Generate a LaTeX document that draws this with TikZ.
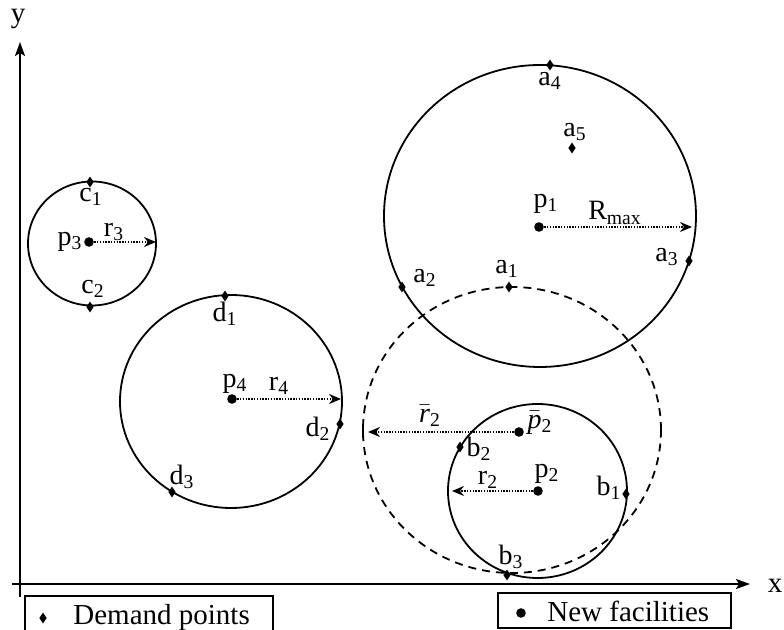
\documentclass[tikz,border=0pt]{standalone}
\usepackage{fontspec}
\setmainfont{Liberation Serif}
\usetikzlibrary{arrows.meta,positioning,shapes.geometric}

\tikzset{
  demand/.style={diamond,fill,inner sep=0pt,minimum width=3.8pt,minimum height=5.6pt},
  facility/.style={circle,fill,inner sep=0pt,minimum size=4.8pt},
  ring/.style={ellipse,draw,line width=0.9pt,inner sep=0pt},
  radius/.style={line width=1pt,dash pattern=on 0.7pt off 0.7pt,
    -{Stealth[length=6pt,width=5pt,inset=2pt]}},
  axis/.style={line width=1pt,-{Stealth[length=7pt,width=5pt,inset=1.5pt]}},
  tag/.style={font=\fontsize{14}{16}\selectfont,inner sep=0pt},
  legend/.style={font=\fontsize{14.5}{17}\selectfont,inner sep=0pt},
}
\newcommand{\barit}[1]{$\bar{\mbox{\textit{#1}}}$}

\begin{document}
\begin{tikzpicture}[x=0.5pt,y=-0.5pt]
  \useasboundingbox (0,0) rectangle (784,630);

  % axes
  \coordinate (xs) at (12,584);
  \coordinate (xe) at (750,584);
  \coordinate (ys) at (20,597);
  \coordinate (ye) at (20,42);
  \draw[axis] (xs) -- (xe);
  \draw[axis] (ys) -- (ye);
  \node[legend] (xl) at (775,586) {x};
  \node[legend] (yl) at (18,19) {y};

  % coverage circles
  \node[ring,minimum width=156pt,minimum height=151pt] (ring1) at (540,216) {};
  \node[ring,dashed,dash pattern=on 4pt off 3pt,minimum width=149pt,minimum height=143pt] (ringb) at (512,430) {};
  \node[ring,minimum width=89.5pt,minimum height=87pt] (ring2) at (537.5,491) {};
  \node[ring,minimum width=64pt,minimum height=62pt] (ring3) at (92,243.5) {};
  \node[ring,minimum width=111pt,minimum height=106.5pt] (ring4) at (231,401.5) {};

  % new facilities
  \node[facility] (p1) at (539,227) {};
  \node[facility] (p2) at (538,491) {};
  \node[facility] (pb2) at (519,432) {};
  \node[facility] (p3) at (89,242) {};
  \node[facility] (p4) at (232,399) {};

  % radii
  \coordinate (t1) at (692,227);
  \coordinate (t2) at (452,491);
  \coordinate (tb2) at (368,432);
  \coordinate (t3) at (156,242);
  \coordinate (t4) at (341,399);
  \draw[radius] (p1) -- (t1);
  \draw[radius] (p2) -- (t2);
  \draw[radius] (pb2) -- (tb2);
  \draw[radius] (p3) -- (t3);
  \draw[radius] (p4) -- (t4);
  \draw[line width=0.9pt] (363,426) -- (363,438);

  % demand points
  \node[demand] (a1) at (509,287) {};
  \node[demand] (a2) at (402,287) {};
  \node[demand] (a3) at (689,261) {};
  \node[demand] (a4) at (550,65) {};
  \node[demand] (a5) at (572,148) {};
  \node[demand] (b1) at (626,494) {};
  \node[demand] (b2) at (460,447) {};
  \node[demand] (b3) at (507,575) {};
  \node[demand] (c1) at (90,182) {};
  \node[demand] (c2) at (90,307) {};
  \node[demand] (d1) at (225,296) {};
  \node[demand] (d2) at (340,424) {};
  \node[demand] (d3) at (172,492) {};

  % labels
  \node[tag] (a1l) at (507,269) {a\textsubscript{1}};
  \node[tag] (a2l) at (425,278) {a\textsubscript{2}};
  \node[tag] (a3l) at (667,257) {a\textsubscript{3}};
  \node[tag] (a4l) at (550,81) {a\textsubscript{4}};
  \node[tag] (a5l) at (575,132) {a\textsubscript{5}};
  \node[tag] (b1l) at (609,488) {b\textsubscript{1}};
  \node[tag] (b2l) at (479,449) {b\textsubscript{2}};
  \node[tag] (b3l) at (511,557) {b\textsubscript{3}};
  \node[tag] (c1l) at (91,197) {c\textsubscript{1}};
  \node[tag] (c2l) at (93,289) {c\textsubscript{2}};
  \node[tag] (d1l) at (225,314) {d\textsubscript{1}};
  \node[tag] (d2l) at (318,429) {d\textsubscript{2}};
  \node[tag] (d3l) at (182,477) {d\textsubscript{3}};
  \node[tag] (p1l) at (546,204) {p\textsubscript{1}};
  \node[tag] (p2l) at (547,474) {p\textsubscript{2}};
  \node[tag] (pb2l) at (540,423) {\barit{p}\textsubscript{2}};
  \node[tag] (p3l) at (70,242) {p\textsubscript{3}};
  \node[tag] (p4l) at (235,384) {p\textsubscript{4}};
  \node[tag] (rmaxl) at (615,213) {R\textsubscript{max}};
  \node[tag] (r2l) at (488,480) {r\textsubscript{2}};
  \node[tag] (rb2l) at (430,416) {\barit{r}\textsubscript{2}};
  \node[tag] (r3l) at (114,232) {r\textsubscript{3}};
  \node[tag] (r4l) at (279,386) {r\textsubscript{4}};

  % legend
  \draw[line width=0.7pt] (25,630) -- (25,596) -- (273,596) -- (273,630);
  \node[demand] (legd) at (43,618) {};
  \node[legend,anchor=base west] (legdt) at (73,625) {Demand points};
  \draw[line width=0.7pt] (498,593) rectangle (731,628);
  \node[facility] (legf) at (521,613) {};
  \node[legend,anchor=base west] (legft) at (547,622) {New facilities};
\end{tikzpicture}
\end{document}
